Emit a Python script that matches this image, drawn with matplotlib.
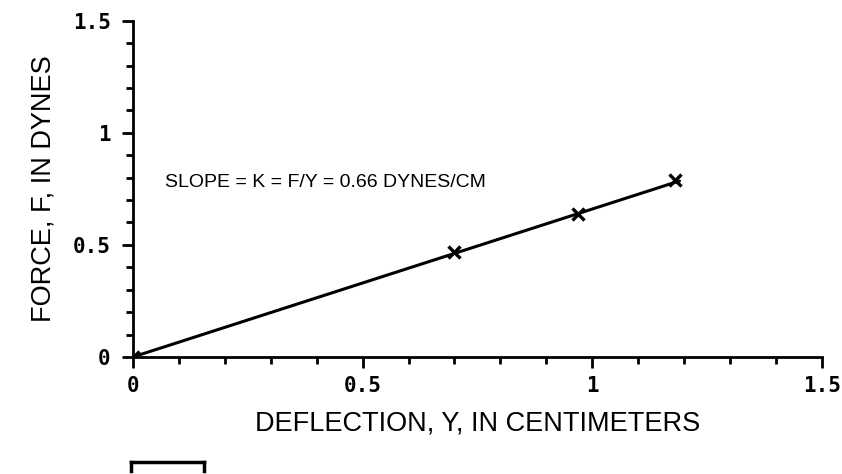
import matplotlib
matplotlib.use('Agg')
import matplotlib.pyplot as plt
import numpy as np
from matplotlib.ticker import MultipleLocator

# measured deflection (cm) and force (dynes)
deflection = [0.0, 0.70, 0.97, 1.18]
force = [0.0, 0.47, 0.64, 0.79]
slope = 0.66
fit_x = [0.0, 1.19]
ticks = [0, 0.5, 1, 1.5]
tick_labels = ['0', '0.5', '1', '1.5']

fig = plt.figure(figsize=(8.42, 4.74), dpi=100)
ax = fig.add_axes([0.158, 0.247, 0.818, 0.709])

fx = np.array(fit_x)
ax.plot(fx, slope * fx, '-', c='k', lw=2.2, solid_capstyle='round')
ax.plot(deflection, force, 'x', c='k', ms=9, mew=2.4)

ax.set_xlim(0, 1.5)
ax.set_ylim(0, 1.5)
ax.spines['top'].set_visible(False)
ax.spines['right'].set_visible(False)
ax.spines['left'].set_linewidth(2)
ax.spines['bottom'].set_linewidth(2)

ax.set_xticks(ticks)
ax.set_yticks(ticks)
ax.set_xticklabels(tick_labels)
ax.set_yticklabels(tick_labels)
ax.xaxis.set_minor_locator(MultipleLocator(0.1))
ax.yaxis.set_minor_locator(MultipleLocator(0.1))
ax.tick_params(which='major', direction='out', length=8, width=2)
ax.tick_params(which='minor', direction='out', length=5, width=2)
ax.tick_params(axis='x', pad=6)
ax.tick_params(axis='y', pad=8)
for lab in ax.get_xticklabels() + ax.get_yticklabels():
    lab.set_fontfamily('DejaVu Sans Mono')
    lab.set_fontweight('bold')
    lab.set_fontsize(15)

ax.set_xlabel('DEFLECTION, Y, IN CENTIMETERS', family='Liberation Sans', fontsize=19.5, labelpad=10)
ax.set_ylabel('FORCE, F, IN DYNES', family='Liberation Sans', fontsize=19.5, labelpad=12)

ax.text(0.07, 0.78, 'SLOPE = K = F/Y = 0.66 DYNES/CM', family='Liberation Sans',
        fontsize=14, va='center', ha='left')

# small scale bar below the plot
ax.plot([-0.005, 0.155], [-0.47, -0.47], c='k', lw=2.5, clip_on=False)
ax.plot([-0.005, -0.005], [-0.47, -0.51], c='k', lw=2.5, clip_on=False)
ax.plot([0.155, 0.155], [-0.47, -0.51], c='k', lw=2.5, clip_on=False)

plt.savefig('out.png', dpi=100)
